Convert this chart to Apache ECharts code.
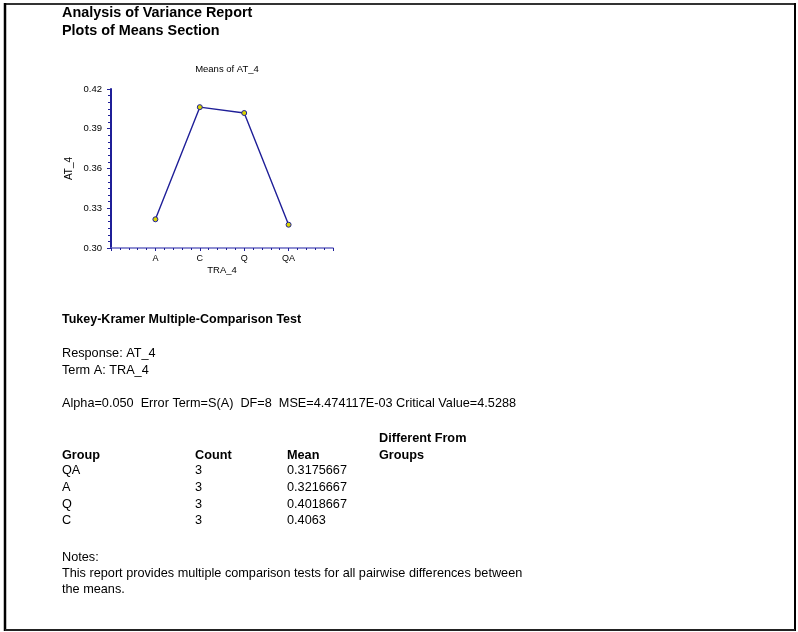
<!DOCTYPE html>
<html>
<head>
<meta charset="utf-8">
<script src="https://cdn.jsdelivr.net/npm/echarts@6/dist/echarts.min.js"></script>
<style>
  html, body { margin: 0; padding: 0; background: #fff; }
  #chart { width: 798px; height: 632px; }
</style>
</head>
<body>
<div id="chart"></div>
<script>
// Group means plotted in factor-level order
const categories = ['A', 'C', 'Q', 'QA'];
const meanValues = [0.3216667, 0.4063, 0.4018667, 0.3175667];

// Y axis ticks
const yMin = 0.30, yMax = 0.42, yStep = 0.03;

// Multiple-comparison table rows (sorted by mean)
const tableGroups = ['QA', 'A', 'Q', 'C'];
const tableCounts = [3, 3, 3, 3];
const tableMeans = ['0.3175667', '0.3216667', '0.4018667', '0.4063'];

const FONT = 'Liberation Sans, Arial, sans-serif';
const BODY = '12.7px ' + FONT;
const BOLD = 'bold 12.7px ' + FONT;
const NAVY = '#1f1f98';

const chart = echarts.init(document.getElementById('chart'), null, { renderer: 'canvas' });

function txt(x, y, s, font) {
  return {
    type: 'text', x: x, y: y,
    style: { text: s, fill: '#000', font: font || BODY, textVerticalAlign: 'middle' }
  };
}

const g = [];
// page frame
g.push({ type: 'line', shape: { x1: 5, y1: 4, x2: 795, y2: 4 }, style: { stroke: '#333', lineWidth: 2 } });
g.push({ type: 'line', shape: { x1: 5, y1: 3, x2: 5, y2: 631 }, style: { stroke: '#000', lineWidth: 2.5 } });
g.push({ type: 'line', shape: { x1: 795, y1: 3, x2: 795, y2: 631 }, style: { stroke: '#000', lineWidth: 2 } });
g.push({ type: 'line', shape: { x1: 5, y1: 630, x2: 795, y2: 630 }, style: { stroke: '#222', lineWidth: 2 } });

// report headings
g.push(txt(62, 13, 'Analysis of Variance Report', 'bold 14.4px ' + FONT));
g.push(txt(62, 31, 'Plots of Means Section', 'bold 14.4px ' + FONT));
g.push(txt(62, 320, 'Tukey-Kramer Multiple-Comparison Test', 'bold 12.5px ' + FONT));
g.push(txt(62, 353, 'Response: AT_4'));
g.push(txt(62, 370, 'Term A: TRA_4'));
g.push(txt(62, 403, 'Alpha=0.050  Error Term=S(A)  DF=8  MSE=4.474117E-03 Critical Value=4.5288'));

// table header
const colX = [62, 195, 287, 379];
g.push(txt(colX[3], 438, 'Different From', BOLD));
g.push(txt(colX[0], 455, 'Group', BOLD));
g.push(txt(colX[1], 455, 'Count', BOLD));
g.push(txt(colX[2], 455, 'Mean', BOLD));
g.push(txt(colX[3], 455, 'Groups', BOLD));
tableGroups.forEach(function (grp, i) {
  const y = 470.5 + i * 16.8;
  g.push(txt(colX[0], y, grp));
  g.push(txt(colX[1], y, String(tableCounts[i])));
  g.push(txt(colX[2], y, tableMeans[i]));
});

// notes
g.push(txt(62, 557, 'Notes:'));
g.push(txt(62, 573, 'This report provides multiple comparison tests for all pairwise differences between'));
g.push(txt(62, 589, 'the means.'));

const option = {
  backgroundColor: '#fff',
  animation: false,
  title: {
    text: 'Means of AT_4',
    left: 222, top: 59, textAlign: 'center',
    textStyle: { fontFamily: FONT, fontSize: 9.5, fontWeight: 'normal', color: '#000' }
  },
  grid: { left: 111, right: 465, top: 89, bottom: 384, containLabel: false },
  xAxis: {
    type: 'value', min: 0, max: categories.length + 1, interval: 1,
    name: 'TRA_4', nameLocation: 'middle', nameGap: 17,
    nameTextStyle: { fontFamily: FONT, fontSize: 9.5, color: '#000' },
    axisLine: { lineStyle: { color: '#6a6ac4', width: 1.5 } },
    axisTick: { show: true, length: 3, lineStyle: { color: NAVY, width: 1 } },
    minorTick: { show: true, splitNumber: 5, length: 2, lineStyle: { color: NAVY, width: 1 } },
    splitLine: { show: false },
    axisLabel: {
      fontFamily: FONT, fontSize: 9, color: '#000', margin: 6,
      formatter: function (v) { return categories[v - 1] || ''; }
    }
  },
  yAxis: {
    type: 'value', min: yMin, max: yMax, interval: yStep,
    name: 'AT_4', nameLocation: 'middle', nameGap: 37, nameRotate: 90,
    nameTextStyle: { fontFamily: FONT, fontSize: 10, color: '#000' },
    axisLine: { show: true, lineStyle: { color: NAVY, width: 2 } },
    axisTick: { show: true, length: 4, lineStyle: { color: NAVY, width: 1 } },
    minorTick: { show: true, splitNumber: 6, length: 3, lineStyle: { color: NAVY, width: 1 } },
    splitLine: { show: false },
    axisLabel: {
      fontFamily: FONT, fontSize: 9.5, color: '#000', margin: 9,
      formatter: function (v) { return v.toFixed(2); }
    }
  },
  series: [{
    type: 'line',
    data: meanValues.map(function (v, i) { return [i + 1, v]; }),
    lineStyle: { color: NAVY, width: 1.4 },
    symbol: 'circle', symbolSize: 5,
    itemStyle: { color: '#d8d400', borderColor: NAVY, borderWidth: 1 },
    z: 3
  }],
  graphic: g
};

chart.setOption(option);
</script>
</body>
</html>
